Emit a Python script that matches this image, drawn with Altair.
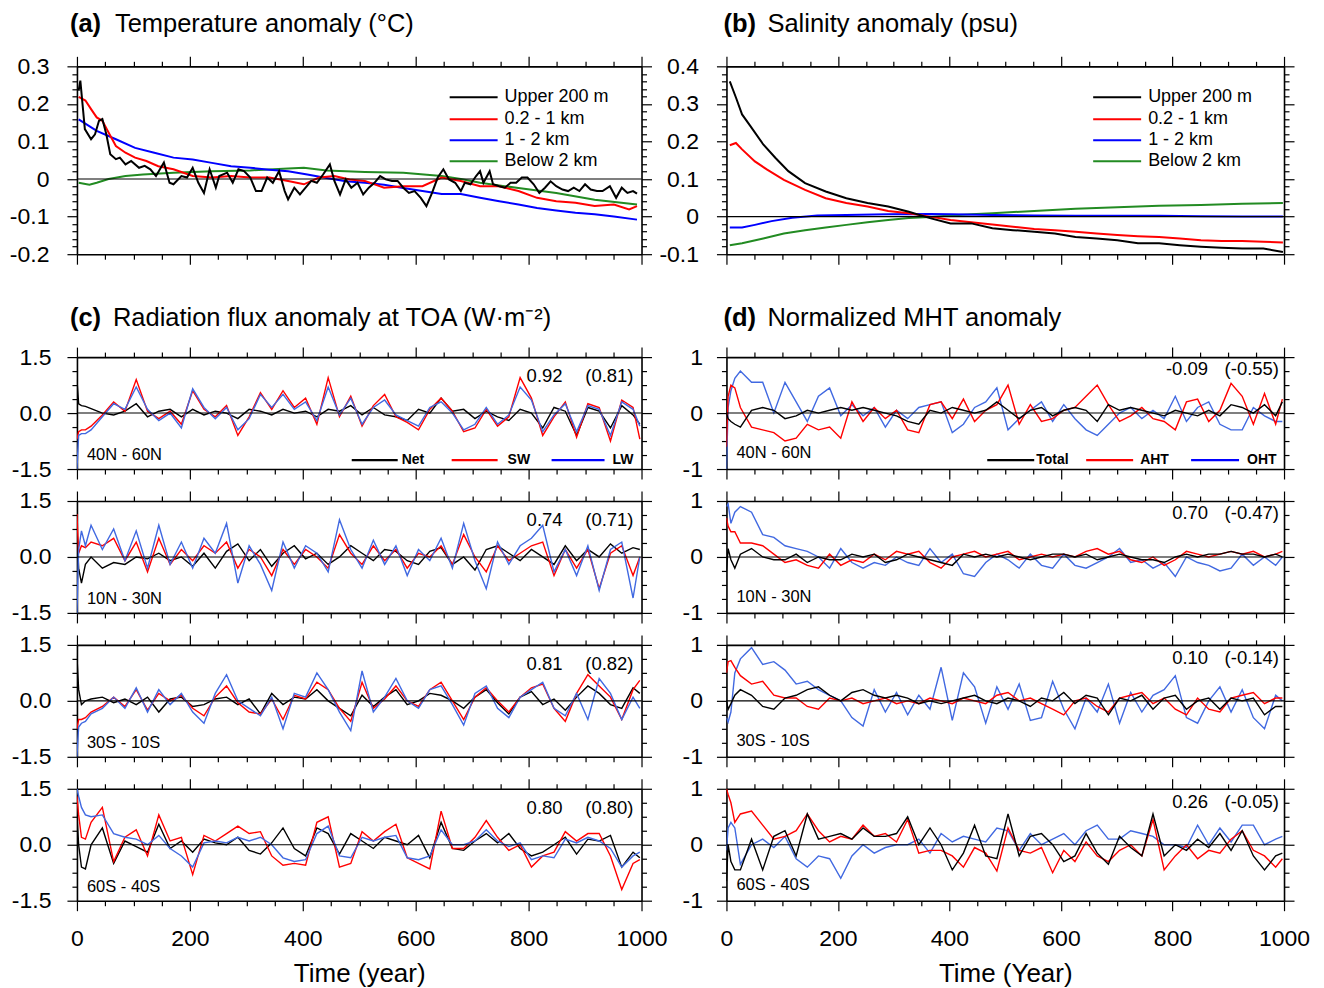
import altair as alt
import pandas as pd

FONT = "Liberation Sans"

# ---------------- (a) Temperature anomaly ----------------
a_up_years = [3,6,14,25,32,39,45,52,59,69,76,86,96,110,120,130,140,154,164,171,185,195,205,215,225,235,246,252,266,276,
              286,296,307,317,327,337,347,358,368,374,385,395,405,415,425,436,448,456,466,476,486,497,507,517,527,537,547,558,568,578,
              588,598,609,619,629,639,649,659,670,680,687,697,707,714,720,731,737,748,758,768,778,788,798,809,819,829,839,849,860,870,
              880,890,900,910,921,931,944,955,965,975,985,992]
a_up_vals = [0.235,0.262,0.133,0.106,0.119,0.155,0.16,0.119,0.066,0.053,0.057,0.039,0.048,0.03,0.035,0.026,0.008,0.044,-0.01,-0.014,
             0.008,0.004,0.03,-0.01,-0.037,0.026,-0.023,0.008,0.017,-0.01,0.026,0.021,0.004,-0.032,-0.032,0.004,-0.01,0.021,-0.032,-0.054,
             -0.023,-0.041,-0.023,-0.005,-0.01,0.012,0.039,-0.005,-0.041,-0.001,-0.023,-0.01,-0.041,-0.023,-0.01,0.008,-0.001,-0.005,-0.005,-0.023,
             -0.037,-0.032,-0.05,-0.072,-0.037,0.004,0.026,-0.001,-0.01,-0.032,-0.01,-0.014,0.008,0.021,-0.01,0.021,-0.014,-0.019,-0.023,-0.01,
             -0.01,0.004,0.004,-0.014,-0.037,-0.023,-0.006,-0.019,-0.028,-0.032,-0.023,-0.032,-0.014,-0.028,-0.032,-0.032,-0.019,-0.05,-0.023,-0.037,
             -0.032,-0.039]
a_mid_years = [3,15,25,35,45,56,69,86,103,123,144,171,205,239,273,307,341,374,402,429,456,483,510,544,578,612,646,680,714,748,
               782,815,849,883,917,951,978,992]
a_mid_vals = [0.219,0.209,0.186,0.164,0.155,0.124,0.088,0.07,0.057,0.048,0.034,0.026,0.008,0.004,0.008,0.004,0.004,-0.005,-0.014,0.004,
              0.008,-0.001,-0.005,-0.023,-0.019,-0.019,0.004,-0.005,-0.019,-0.019,-0.032,-0.05,-0.059,-0.063,-0.072,-0.068,-0.081,-0.072]
a_deep_years = [3,35,69,103,137,171,205,239,273,307,341,374,408,442,476,510,544,578,612,646,680,714,748,782,815,849,883,917,951,992]
a_deep_vals = [0.159,0.128,0.106,0.083,0.07,0.057,0.052,0.043,0.034,0.03,0.025,0.021,0.012,0.003,-0.006,-0.01,-0.015,-0.024,-0.032,-0.04,
               -0.04,-0.05,-0.059,-0.068,-0.077,-0.084,-0.09,-0.094,-0.1,-0.108]
a_bot_years = [3,22,35,56,86,117,171,239,307,374,402,442,510,578,646,680,714,782,849,917,992]
a_bot_vals = [-0.01,-0.015,-0.01,0.0,0.008,0.012,0.017,0.021,0.023,0.028,0.03,0.023,0.019,0.017,0.008,0.0,-0.01,-0.024,-0.037,-0.055,-0.068]

# ---------------- (b) Salinity anomaly ----------------
b_up_years = [6,17,28,43,66,88,111,141,178,215,253,290,327,365,402,439,477,514,552,589,626,664,701,738,776,813,851,888,925,963,998]
b_up_vals = [0.36,0.317,0.272,0.241,0.192,0.156,0.121,0.089,0.067,0.049,0.036,0.027,0.013,-0.004,-0.018,-0.018,-0.031,-0.036,-0.04,-0.045,
             -0.054,-0.058,-0.063,-0.071,-0.071,-0.076,-0.08,-0.083,-0.085,-0.085,-0.094]
b_mid_years = [6,17,28,51,73,103,141,178,215,253,290,327,365,402,439,477,514,552,589,626,664,701,738,776,813,851,888,925,963,998]
b_mid_vals = [0.19,0.196,0.179,0.147,0.125,0.098,0.071,0.049,0.036,0.027,0.015,0.009,0.0,-0.009,-0.015,-0.021,-0.027,-0.033,-0.036,-0.04,
              -0.045,-0.049,-0.052,-0.054,-0.058,-0.063,-0.065,-0.065,-0.067,-0.069]
b_deep_years = [6,28,51,81,118,163,215,290,365,402,477,552,626,701,776,851,925,998]
b_deep_vals = [-0.029,-0.029,-0.022,-0.012,-0.003,0.003,0.004,0.006,0.007,0.006,0.004,0.003,0.002,0.002,0.002,0.001,0.0,0.0]
b_bot_years = [6,28,66,103,141,178,215,253,290,327,365,402,439,477,552,626,701,776,851,925,998]
b_bot_vals = [-0.076,-0.071,-0.058,-0.045,-0.036,-0.029,-0.022,-0.015,-0.009,-0.004,-0.001,0.003,0.006,0.009,0.015,0.021,0.025,0.029,0.031,0.034,0.036]

# ---------------- (c) / (d) common year grid ----------------
GRID = [0, 3, 8, 15] + list(range(25, 1000, 20)) + [997]

# (c) Radiation flux anomaly at TOA
c1_net = [0.9,0.25,0.2,0.18,0.12,0.0,-0.05,0.05,0.25,-0.1,
          0.05,0.1,-0.1,0.1,-0.05,0.05,0.0,-0.15,0.1,0.05,
          -0.05,0.1,0.0,0.05,-0.1,0.1,0.05,0.2,-0.05,0.15,
          -0.05,-0.1,-0.2,0.1,0.0,0.4,0.05,0.1,-0.15,0.05,
          -0.1,-0.2,0.1,0.0,-0.4,0.15,0.05,-0.6,0.15,0.05,
          -0.4,0.2,-0.05,-0.3]
c1_sw = [-0.7,-0.5,-0.45,-0.45,-0.35,-0.05,0.3,0.05,0.9,0.05,
         -0.15,0.05,-0.3,0.6,0.1,-0.1,0.2,-0.6,-0.1,0.55,
         0.1,0.6,0.15,0.4,-0.3,0.95,-0.1,0.45,-0.35,0.2,
         0.5,-0.1,-0.25,-0.45,0.1,0.4,0.05,-0.5,-0.4,0.1,
         -0.35,-0.1,0.95,0.4,-0.6,-0.1,0.3,-0.65,0.25,0.15,
         -0.75,0.35,0.15,-0.7]
c1_lw = [-1.5,-0.6,-0.55,-0.55,-0.45,-0.1,0.25,0.1,0.7,0.1,
         -0.2,0.0,-0.4,0.65,0.15,-0.15,0.15,-0.45,-0.15,0.5,
         0.15,0.5,0.1,0.3,-0.2,0.7,-0.05,0.4,-0.3,0.15,
         0.35,-0.05,-0.2,-0.35,0.15,0.3,0.0,-0.45,-0.3,0.15,
         -0.3,-0.05,0.7,0.35,-0.5,-0.05,0.25,-0.5,0.2,0.1,
         -0.6,0.3,0.1,-0.35]

c2_net = [0.8,-0.3,-0.7,-0.2,0.0,-0.3,-0.15,-0.2,0.0,-0.05,
          0.1,-0.1,0.0,-0.25,0.1,-0.3,0.15,0.35,-0.1,0.2,
          -0.25,0.1,0.3,-0.05,0.1,-0.2,0.0,0.3,0.1,-0.1,
          0.2,0.15,-0.1,-0.2,0.15,0.25,-0.2,0.0,-0.35,0.2,
          0.3,0.1,-0.1,0.2,0.0,-0.2,0.3,-0.1,0.2,0.0,
          0.35,0.1,0.25,0.2]
c2_sw = [1.15,0.1,0.3,0.25,0.4,0.3,0.5,-0.1,0.4,-0.4,
         0.5,-0.2,0.2,-0.1,0.3,0.1,0.4,-0.3,0.2,0.0,
         -0.5,0.2,-0.2,0.2,0.0,-0.3,0.6,0.1,-0.2,0.3,
         -0.1,0.2,-0.3,0.1,0.0,0.3,-0.2,0.6,0.0,-0.4,
         0.3,-0.1,0.1,0.3,0.4,-0.5,0.2,-0.3,0.2,-0.85,
         0.1,0.3,-0.5,0.0]
c2_lw = [-1.5,0.2,0.7,0.3,0.85,0.2,0.75,-0.1,0.7,-0.3,
         0.85,-0.2,0.4,-0.3,0.5,0.1,0.9,-0.7,0.3,-0.2,
         -0.9,0.4,-0.3,0.3,0.1,-0.4,1.0,0.2,-0.3,0.45,
         -0.2,0.3,-0.5,0.2,-0.1,0.5,-0.3,0.9,-0.1,-0.85,
         0.4,-0.2,0.3,0.5,0.85,-0.4,0.2,-0.5,0.3,-0.9,
         0.2,0.4,-1.1,0.0]

c3_net = [1.2,0.3,-0.1,0.0,0.05,0.1,-0.05,0.05,-0.1,0.1,
          -0.3,0.05,0.1,-0.15,-0.1,0.05,0.1,-0.1,0.05,-0.35,
          0.2,-0.1,0.1,0.05,0.3,0.0,-0.2,-0.4,0.15,-0.15,
          0.1,0.3,-0.1,0.0,0.2,0.15,0.0,-0.2,0.1,0.3,
          -0.05,-0.35,0.1,0.25,-0.1,0.05,-0.25,0.1,0.4,0.2,
          -0.1,-0.2,0.35,0.2]
c3_sw = [-0.75,-0.5,-0.5,-0.45,-0.3,-0.15,0.1,-0.15,0.3,-0.25,
         0.2,0.0,0.15,-0.2,-0.4,0.1,0.4,-0.05,-0.3,-0.35,
         0.05,-0.5,0.15,0.05,0.5,0.3,-0.2,-0.55,0.5,-0.2,
         0.05,0.4,0.0,-0.15,0.3,0.5,0.0,-0.5,0.1,0.35,
         0.0,-0.3,0.1,0.35,0.45,-0.2,-0.55,0.2,0.7,0.4,
         0.1,-0.5,0.3,0.55]
c3_lw = [-1.5,-0.7,-0.6,-0.55,-0.35,-0.2,0.1,-0.2,0.35,-0.3,
         0.3,-0.1,0.2,-0.3,-0.6,0.2,0.7,0.0,-0.2,-0.4,
         0.1,-0.75,0.2,0.1,0.75,0.3,-0.3,-0.8,0.8,-0.3,
         0.1,0.6,0.0,-0.2,0.3,0.4,-0.1,-0.65,0.2,0.4,
         -0.2,-0.45,0.1,0.3,0.5,-0.2,-0.4,0.2,-0.5,0.6,
         0.2,-0.5,0.1,-0.2]

c4_net = [0.8,0.0,-0.6,-0.65,0.0,0.45,-0.5,0.1,-0.05,-0.2,
          0.55,-0.1,0.1,-0.2,0.15,0.05,0.0,0.2,-0.15,-0.25,
          0.05,0.45,-0.1,-0.3,0.45,0.3,-0.25,0.3,0.1,-0.1,
          0.2,0.1,0.0,0.25,-0.35,0.6,-0.1,-0.15,0.1,0.3,
          0.05,0.3,-0.1,-0.3,-0.2,0.0,0.2,-0.25,0.15,0.1,
          0.25,-0.6,-0.2,-0.35]
c4_sw = [1.3,0.8,0.2,0.15,0.6,1.0,-0.45,0.2,0.4,-0.3,
         0.8,0.1,0.2,-0.8,0.25,0.1,0.3,0.5,0.3,0.35,
         -0.3,-0.55,-0.5,-0.55,0.6,0.75,-0.6,-0.5,0.35,0.1,
         0.35,0.55,-0.35,-0.5,-0.65,0.9,-0.1,-0.1,0.2,0.65,
         0.2,-0.15,0.0,-0.6,-0.3,-0.2,0.35,0.1,0.3,0.3,
         -0.3,-1.2,-0.5,-0.4]
c4_lw = [1.5,1.3,1.0,0.8,0.75,0.8,0.3,0.2,0.15,0.0,
         0.25,-0.1,-0.3,-0.6,0.05,0.1,0.05,0.2,0.1,0.2,
         0.0,-0.35,-0.45,-0.4,0.3,0.5,-0.3,-0.35,0.2,0.1,
         0.2,0.25,-0.35,-0.4,-0.3,0.4,0.0,0.0,0.1,0.4,
         0.1,-0.05,0.05,-0.4,-0.3,-0.35,0.15,0.05,0.2,0.1,
         -0.1,-0.6,-0.3,-0.2]

# (d) Normalized MHT anomaly
d1_tot = [0.0,-0.1,-0.15,-0.2,-0.25,0.05,0.1,0.05,-0.1,-0.05,
          0.05,0.0,0.05,0.1,0.05,0.1,0.05,0.0,-0.05,-0.15,
          -0.2,0.05,0.0,0.1,0.05,0.0,0.05,0.2,0.05,-0.1,
          0.05,0.1,-0.05,0.05,0.1,0.05,-0.15,0.15,0.05,0.1,
          0.05,0.0,-0.05,0.05,0.0,-0.05,0.05,-0.05,0.15,0.1,
          0.0,0.15,-0.05,0.2]
d1_aht = [-0.6,0.3,0.5,0.45,0.1,-0.25,-0.3,-0.35,-0.5,-0.45,
          -0.2,-0.3,-0.25,-0.45,0.2,-0.15,0.1,-0.1,0.05,-0.3,
          -0.35,0.15,0.2,-0.1,0.25,-0.15,0.05,0.15,0.5,-0.2,
          0.15,-0.15,-0.1,0.05,0.1,0.3,0.5,0.15,-0.15,-0.05,
          0.1,-0.1,-0.15,-0.3,0.2,0.25,-0.15,0.05,0.53,0.3,
          -0.2,0.35,-0.2,0.25]
d1_oht = [-1.0,0.1,0.4,0.62,0.75,0.55,0.55,0.0,0.55,0.2,
          -0.15,0.3,0.45,-0.05,0.15,-0.05,0.1,-0.25,0.05,-0.1,
          0.1,0.15,0.2,-0.35,-0.2,0.1,0.2,0.45,-0.3,-0.1,
          0.05,0.2,-0.15,0.15,-0.1,-0.3,-0.4,-0.2,0.0,0.1,
          -0.1,0.05,-0.1,0.3,-0.15,0.1,0.2,-0.2,-0.3,-0.3,
          0.1,-0.05,-0.15,-0.15]

d2_tot = [-0.25,0.15,-0.05,-0.2,0.05,0.15,0.0,-0.05,-0.05,0.05,
          -0.1,0.0,-0.05,-0.05,0.05,0.0,0.05,-0.1,-0.05,0.05,
          0.0,-0.05,-0.1,-0.15,0.05,0.0,0.05,0.0,0.05,0.0,
          -0.05,0.0,0.05,0.05,0.0,0.05,-0.05,0.0,0.05,0.0,
          -0.05,-0.05,-0.1,0.0,0.05,0.0,0.05,0.05,0.1,0.05,
          0.05,0.0,0.05,0.0]
d2_aht = [0.7,0.55,0.45,0.45,0.25,0.25,0.2,0.05,-0.1,-0.05,
          -0.15,-0.2,0.05,-0.15,-0.05,-0.1,0.05,-0.05,0.1,0.05,
          0.1,-0.1,-0.2,0.0,0.05,0.1,0.0,0.05,0.1,-0.05,
          0.0,0.05,0.0,0.05,0.0,0.1,0.15,0.05,0.1,-0.05,
          -0.1,0.0,-0.15,-0.05,0.1,0.05,0.0,0.05,0.1,0.05,
          0.1,0.0,0.05,0.1]
d2_oht = [0.9,0.95,0.6,0.8,0.9,0.8,0.4,0.35,0.2,0.15,
          0.1,0.0,-0.2,0.15,-0.1,-0.2,-0.1,-0.15,0.0,-0.1,
          -0.15,0.15,-0.1,0.05,-0.3,-0.35,-0.1,0.05,-0.05,-0.2,
          0.05,-0.15,-0.2,0.05,-0.15,-0.2,-0.1,0.0,0.15,-0.1,
          -0.05,-0.2,-0.1,-0.35,0.0,-0.1,-0.15,-0.25,-0.2,0.05,
          -0.15,0.0,-0.15,0.0]

d3_tot = [0.0,-0.15,-0.05,0.1,0.2,0.1,-0.1,-0.15,0.05,0.1,
          0.2,0.25,0.1,0.0,0.15,0.2,0.1,0.05,0.1,0.05,
          -0.05,0.0,-0.05,0.0,0.05,0.1,0.0,-0.05,0.05,0.0,
          -0.1,0.05,0.0,0.15,-0.05,0.1,0.05,-0.25,0.05,0.0,
          0.1,-0.15,0.05,0.1,-0.15,0.0,0.05,-0.15,0.05,0.0,
          0.05,-0.25,-0.1,-0.1]
d3_aht = [0.5,0.7,0.72,0.6,0.45,0.3,0.35,0.1,0.05,0.05,
          -0.1,-0.15,0.05,0.0,0.05,-0.05,0.0,0.05,-0.05,0.0,
          -0.05,0.05,0.0,-0.05,0.05,0.0,-0.05,0.1,0.15,0.0,
          0.05,-0.05,-0.15,-0.25,0.0,0.05,-0.1,-0.2,0.05,0.1,
          0.15,-0.05,0.05,-0.15,-0.25,0.05,-0.15,-0.2,0.05,0.1,
          0.15,-0.05,0.05,0.05]
d3_oht = [-0.3,-0.38,-0.2,0.5,0.75,0.95,0.65,0.7,0.55,0.3,
          0.35,0.2,0.1,0.0,-0.3,-0.45,0.2,-0.2,0.15,-0.25,
          0.1,-0.15,0.6,-0.35,0.5,0.25,-0.4,0.25,-0.15,0.3,
          -0.35,-0.3,0.35,-0.15,-0.5,0.05,-0.2,0.3,-0.4,0.15,
          -0.2,0.1,0.2,0.45,-0.3,-0.4,0.0,0.25,-0.2,0.2,
          -0.3,-0.5,0.1,0.0]

d4_tot = [-0.65,0.0,-0.3,-0.45,-0.45,0.1,-0.45,0.15,0.25,-0.2,
          0.55,0.1,0.15,0.2,0.1,0.3,0.15,0.15,0.2,0.5,
          0.0,0.3,0.0,-0.45,-0.15,0.35,-0.2,-0.25,0.55,-0.2,
          0.15,0.2,0.0,-0.3,-0.2,0.2,-0.15,-0.35,0.15,-0.05,
          -0.2,0.55,-0.2,0.0,-0.1,0.1,-0.05,0.2,-0.1,0.25,
          -0.2,-0.45,-0.2,-0.15]
d4_aht = [1.0,0.9,0.75,0.4,0.55,0.6,0.35,0.1,0.15,0.25,
          0.55,0.25,0.05,0.15,0.1,0.35,0.15,0.2,0.05,0.45,
          -0.15,-0.1,-0.1,-0.2,-0.4,-0.05,-0.15,-0.47,0.3,-0.1,
          -0.15,-0.05,-0.5,-0.1,-0.3,0.05,-0.2,-0.3,-0.1,0.0,
          -0.2,0.45,-0.45,-0.2,0.0,-0.25,-0.1,-0.15,0.1,0.25,
          -0.1,-0.2,-0.4,-0.25]
d4_oht = [-0.1,0.3,0.4,0.3,-0.35,0.0,0.1,-0.05,0.15,-0.25,
          -0.4,-0.2,-0.25,-0.6,-0.2,0.0,-0.15,-0.05,0.0,0.0,
          0.1,-0.15,0.2,0.05,0.15,0.1,0.05,0.3,0.25,-0.1,
          0.2,0.0,0.1,0.2,0.0,0.25,0.35,0.1,0.1,0.25,
          0.2,0.15,0.0,0.0,-0.05,0.35,0.0,0.3,0.05,0.35,
          0.35,0.0,0.1,0.15]

for _s in [c1_net, c1_sw, c1_lw, c2_net, c2_sw, c2_lw, c3_net, c3_sw, c3_lw, c4_net, c4_sw, c4_lw,
           d1_tot, d1_aht, d1_oht, d2_tot, d2_aht, d2_oht, d3_tot, d3_aht, d3_oht, d4_tot, d4_aht, d4_oht]:
    assert len(_s) == len(GRID), len(_s)

region_labels = ["40N - 60N", "10N - 30N", "30S - 10S", "60S - 40S"]
c_corr = [("0.92", "(0.81)"), ("0.74", "(0.71)"), ("0.81", "(0.82)"), ("0.80", "(0.80)")]
d_corr = [("-0.09", "(-0.55)"), ("0.70", "(-0.47)"), ("0.10", "(-0.14)"), ("0.26", "(-0.05)")]
ab_legend = ["Upper 200 m", "0.2 - 1 km", "1 - 2 km", "Below 2 km"]

BLACK, RED, BLUE, GREEN, RBLUE = "#000000", "#ff0000", "#0000ff", "#228b22", "#4169e1"

W_L, W_R = 565, 558
H_TOP, H_SUB = 188, 112

ONE = pd.DataFrame({"k": [0]})

XT = list(range(0, 1001, 50))
XMAJ = "datum.value % 200 === 0"


def tsize(test):
    return {"condition": {"test": test, "value": 10}, "value": 5}


def x_axis(orient, labels, title=None):
    kw = dict(orient=orient, values=XT, tickSize=tsize(XMAJ), labels=labels, grid=False,
              domain=True, domainColor="black", domainWidth=1.6, tickColor="black", tickWidth=1.2,
              title=title)
    if labels:
        kw.update(labelExpr=f"({XMAJ}) ? format(datum.value, 'd') : ''", labelFont=FONT, labelFontSize=23,
                  labelPadding=17, labelColor="black", labelFlush=False, labelOverlap=False)
    if title:
        kw.update(titleFont=FONT, titleFontSize=26, titleFontWeight="normal", titleColor="black",
                  titlePadding=10)
    return alt.Axis(**kw)


def y_axis(orient, values, major, lexpr, labels, pad=16):
    kw = dict(orient=orient, values=values, tickSize=tsize(major), labels=labels, grid=False,
              domain=True, domainColor="black", domainWidth=1.6, tickColor="black", tickWidth=1.2,
              title=None)
    if labels:
        kw.update(labelExpr=f"({major}) ? ({lexpr}) : ''", labelFont=FONT, labelFontSize=23,
                  labelPadding=pad, labelColor="black", labelFlush=False, labelOverlap=False)
    return alt.Axis(**kw)


YT_A = [round(-0.2 + 0.02 * i, 2) for i in range(26)]
YT_B = [round(-0.1 + 0.02 * i, 2) for i in range(26)]
YT_C = [round(-1.5 + 0.375 * i, 3) for i in range(9)]
YT_D = [round(-1.0 + 0.25 * i, 2) for i in range(9)]
MAJ_AB = "abs(datum.value*10 - round(datum.value*10)) < 1e-6"
MAJ_C = "abs(datum.value) < 1e-6 || abs(abs(datum.value) - 1.5) < 1e-6"
MAJ_D = "abs(datum.value - round(datum.value)) < 1e-6"
LAB_AB = "abs(datum.value) < 1e-6 ? '0' : (datum.value < 0 ? '-' : '') + format(abs(datum.value), '.1f')"
LAB_C = "(datum.value < -1e-6 ? '-' : '') + format(abs(datum.value), '.1f')"
LAB_D = "(datum.value < -1e-6 ? '-' : '') + format(abs(datum.value), 'd')"


def text(t, x, y, size, weight="normal", align="left"):
    return alt.Chart(ONE).mark_text(text=t, font=FONT, fontSize=size, fontWeight=weight, align=align,
                                    baseline="middle", color="black").encode(x=alt.value(x), y=alt.value(y))


def seg(x1, x2, y, color, sw):
    return alt.Chart(ONE).mark_rule(color=color, strokeWidth=sw).encode(
        x=alt.value(x1), x2=alt.value(x2), y=alt.value(y))


def panel(series, width, height, ydom, yvals, ymaj, ylab, ypad, xlabels=False, xtitle=None, extra=()):
    xs = alt.Scale(domain=[0, 1000], nice=False, zero=False)
    ys = alt.Scale(domain=ydom, nice=False, zero=False)
    layers = []
    for i, (yrs, vals, col, sw) in enumerate(series):
        df = pd.DataFrame({"year": yrs, "v": vals})
        if i == 0:
            xe = alt.X("year:Q", scale=xs, axis=x_axis("bottom", xlabels, xtitle))
            ye = alt.Y("v:Q", scale=ys, axis=y_axis("left", yvals, ymaj, ylab, True, ypad))
        else:
            xe = alt.X("year:Q", scale=xs, axis=None)
            ye = alt.Y("v:Q", scale=ys, axis=None)
        layers.append(alt.Chart(df).mark_line(color=col, strokeWidth=sw, clip=True).encode(x=xe, y=ye))
    zero = alt.Chart(pd.DataFrame({"x0": [0], "x1": [1000], "y": [0]})).mark_rule(
        color="black", strokeWidth=1.1).encode(
        x=alt.X("x0:Q", scale=xs, axis=x_axis("top", False)), x2="x1:Q",
        y=alt.Y("y:Q", scale=ys, axis=y_axis("right", yvals, ymaj, ylab, False)))
    layers.append(zero)
    layers.extend(extra)
    return alt.layer(*layers).resolve_axis(x="independent", y="independent").properties(width=width, height=height)


def ab_legend_layers(x1, x2, xt, colors):
    out = []
    for lab, col, yy in zip(ab_legend, colors, [31, 53, 74, 95]):
        out.append(seg(x1, x2, yy, col, 2))
        out.append(text(lab, xt, yy, 18))
    return out


# ---- panel (a)
pa = panel(
    [(a_bot_years, a_bot_vals, GREEN, 2), (a_deep_years, a_deep_vals, BLUE, 2),
     (a_mid_years, a_mid_vals, RED, 2), (a_up_years, a_up_vals, BLACK, 2)],
    W_L, H_TOP, [-0.2, 0.3], YT_A, MAJ_AB, LAB_AB, 18,
    extra=[text("(a)", -7, -42, 25.5, "bold"), text("Temperature anomaly (°C)", 38, -42, 25.5)]
    + ab_legend_layers(373, 421, 428, [BLACK, RED, BLUE, GREEN]))

# ---- panel (b)
pb = panel(
    [(b_bot_years, b_bot_vals, GREEN, 2), (b_deep_years, b_deep_vals, BLUE, 2),
     (b_mid_years, b_mid_vals, RED, 2), (b_up_years, b_up_vals, BLACK, 2)],
    W_R, H_TOP, [-0.1, 0.4], YT_B, MAJ_AB, LAB_AB, 18,
    extra=[text("(b)", -3, -42, 25.5, "bold"), text("Salinity anomaly (psu)", 41, -42, 25.5)]
    + ab_legend_layers(367, 415, 422, [BLACK, RED, BLUE, GREEN]))


def spacer(w):
    return alt.Chart(ONE).mark_point(opacity=0).encode(x=alt.value(0), y=alt.value(0)).properties(
        width=w, height=39, view=alt.ViewBackground(stroke="transparent", strokeOpacity=0))


c_data = [(c1_net, c1_sw, c1_lw), (c2_net, c2_sw, c2_lw), (c3_net, c3_sw, c3_lw), (c4_net, c4_sw, c4_lw)]
d_data = [(d1_tot, d1_aht, d1_oht), (d2_tot, d2_aht, d2_oht), (d3_tot, d3_aht, d3_oht), (d4_tot, d4_aht, d4_oht)]

rows = []
for i in range(4):
    last = i == 3
    net, sw, lw = c_data[i]
    cex = [text(region_labels[i], 10, 98, 16.5),
           text(c_corr[i][0], 486, 19, 18.5, align="right"),
           text(c_corr[i][1], 557, 19, 18.5, align="right")]
    if i == 0:
        cex += [text("(c)", -7, -39, 25.5, "bold"), text("Radiation flux anomaly at TOA (W·m⁻²)", 36, -39, 25.5),
                seg(275, 321, 103, BLACK, 2.2), text("Net", 325, 103, 14, "bold"),
                seg(375, 421, 103, RED, 2.2), text("SW", 431, 103, 14, "bold"),
                seg(475, 528, 103, BLUE, 2.2), text("LW", 536, 103, 14, "bold")]
    cp = panel([(GRID, net, BLACK, 1.4), (GRID, sw, RED, 1.4), (GRID, lw, RBLUE, 1.4)],
               W_L, H_SUB, [-1.5, 1.5], YT_C, MAJ_C, LAB_C, 16,
               xlabels=last, xtitle="Time (year)" if last else None, extra=cex)

    tot, aht, oht = d_data[i]
    dy = 12 if i < 2 else 13
    dex = [text(region_labels[i], 10, 96, 16.5),
           text(d_corr[i][0], 482, dy, 18.5, align="right"),
           text(d_corr[i][1], 553, dy, 18.5, align="right")]
    if i == 0:
        dex += [text("(d)", -3, -39, 25.5, "bold"), text("Normalized MHT anomaly", 41, -39, 25.5),
                seg(261, 308, 103, BLACK, 2.2), text("Total", 310, 103, 14, "bold"),
                seg(360, 407, 103, RED, 2.2), text("AHT", 414, 103, 14, "bold"),
                seg(465, 513, 103, BLUE, 2.2), text("OHT", 521, 103, 14, "bold")]
    dp = panel([(GRID, oht, RBLUE, 1.4), (GRID, aht, RED, 1.4), (GRID, tot, BLACK, 1.4)],
               W_R, H_SUB, [-1, 1], YT_D, MAJ_D, LAB_D, 14,
               xlabels=last, xtitle="Time (Year)" if last else None, extra=dex)
    rows += [cp, dp]

chart = alt.concat(pa, pb, spacer(W_L), spacer(W_R), *rows, columns=2,
                   spacing={"row": 32, "column": 85}, bounds="flush", align="each").properties(
    padding={"left": 0, "top": 3, "right": 5, "bottom": 5}
).configure_view(stroke="transparent", strokeOpacity=0, strokeWidth=0).configure(background="white")

chart.save("out.html", embed_options={"renderer": "svg", "actions": False})
